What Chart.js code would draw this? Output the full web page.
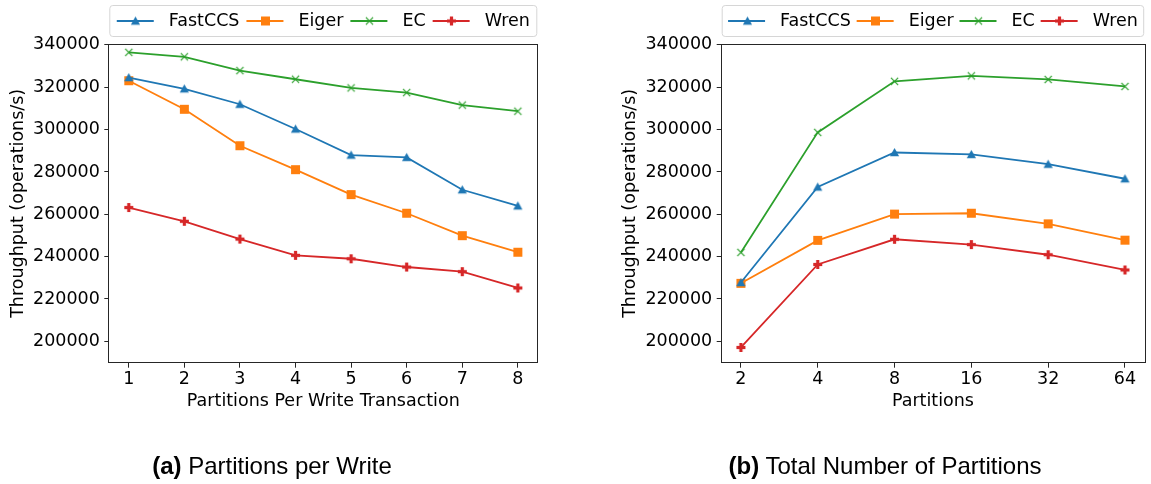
<!DOCTYPE html>
<html><head><meta charset="utf-8">
<script src="https://cdn.jsdelivr.net/npm/chart.js@4.4.0/dist/chart.umd.min.js"></script>
<style>
html,body{margin:0;padding:0;background:#fff;width:1151px;height:484px;overflow:hidden;position:relative;}
#wrapA{position:absolute;left:0;top:0;width:575px;height:484px;}
#wrapB{position:absolute;left:575px;top:0;width:576px;height:484px;}
.cap{position:absolute;top:452px;font-family:"Liberation Sans",Arial,sans-serif;font-size:24px;line-height:28px;color:#000;white-space:nowrap;transform:translateX(-50%);}
</style></head><body>
<div id="wrapA"><canvas id="chartA" width="575" height="484"></canvas></div>
<div id="wrapB"><canvas id="chartB" width="576" height="484"></canvas></div>
<div class="cap" style="left:272px"><b>(a)</b> Partitions per Write</div>
<div class="cap" style="left:885px"><b>(b)</b> Total Number of Partitions</div>
<script>
// ---- data ----
const seriesNames = ['FastCCS', 'Eiger', 'EC', 'Wren'];
const partitionsPerWrite = [1, 2, 3, 4, 5, 6, 7, 8];
const totalPartitions = ['2', '4', '8', '16', '32', '64'];
const yTickValues = [200000, 220000, 240000, 260000, 280000, 300000, 320000, 340000];

const fastccsPerWrite = [324600, 319300, 312000, 300300, 288000, 286900, 271600, 264000];
const eigerPerWrite   = [323100, 309600, 292400, 281100, 269300, 260500, 249900, 242100];
const ecPerWrite      = [336500, 334400, 327900, 323800, 319700, 317500, 311600, 308700];
const wrenPerWrite    = [263200, 256700, 248300, 240600, 239000, 235100, 232900, 225200];

const fastccsTotal = [227800, 272900, 289200, 288300, 283700, 276800];
const eigerTotal   = [227400, 247700, 260100, 260500, 255500, 247800];
const ecTotal      = [242000, 298700, 322800, 325400, 323700, 320400];
const wrenTotal    = [197100, 236300, 248200, 245700, 240900, 233700];

// ---- styles ----
const colors = ['#1f77b4', '#ff7f0e', '#2ca02c', '#d62728'];
const markerKinds = ['triangle', 'square', 'x', 'plus'];
const FONT = '"DejaVu Sans", sans-serif';
const FS = 17.5;

function makeMarker(kind, color) {
  const c = document.createElement('canvas');
  c.width = 13; c.height = 13;
  const g = c.getContext('2d');
  const cx = 6.5, cy = 6.5;
  g.fillStyle = color; g.strokeStyle = color;
  if (kind === 'triangle') {
    g.beginPath();
    g.moveTo(cx, cy - 4.5); g.lineTo(cx - 4.6, cy + 3.8); g.lineTo(cx + 4.6, cy + 3.8);
    g.closePath(); g.fill();
  } else if (kind === 'square') {
    g.fillRect(cx - 4.5, cy - 4.5, 9, 9);
  } else if (kind === 'x') {
    g.lineWidth = 1.2;
    g.beginPath();
    g.moveTo(cx - 3.6, cy - 3.6); g.lineTo(cx + 3.6, cy + 3.6);
    g.moveTo(cx + 3.6, cy - 3.6); g.lineTo(cx - 3.6, cy + 3.6);
    g.stroke();
  } else if (kind === 'plus') {
    g.fillRect(cx - 4.5, cy - 1.6, 9, 3.2);
    g.fillRect(cx - 1.6, cy - 4.5, 3.2, 9);
  }
  return c;
}
const markers = markerKinds.map((k, i) => makeMarker(k, colors[i]));

function mkDataset(i, xs, ys) {
  return {
    label: seriesNames[i],
    data: ys.map((v, j) => ({x: xs[j], y: v})),
    borderColor: colors[i],
    backgroundColor: colors[i],
    borderWidth: 1.8,
    pointStyle: markers[i],
    pointRadius: 5,
    tension: 0,
    fill: false
  };
}

const legendPlugin = {
  id: 'mplLegend',
  afterDraw(chart) {
    const ctx = chart.ctx, a = chart.chartArea;
    const top = 5.5, bot = 36.5, left = a.left + 0.5, right = a.right - 0.5;
    ctx.save();
    ctx.beginPath();
    const r = 3;
    ctx.moveTo(left + r, top); ctx.lineTo(right - r, top); ctx.arcTo(right, top, right, top + r, r);
    ctx.lineTo(right, bot - r); ctx.arcTo(right, bot, right - r, bot, r);
    ctx.lineTo(left + r, bot); ctx.arcTo(left, bot, left, bot - r, r);
    ctx.lineTo(left, top + r); ctx.arcTo(left, top, left + r, top, r);
    ctx.closePath();
    ctx.fillStyle = '#fff'; ctx.fill();
    ctx.strokeStyle = '#d6d6d6'; ctx.lineWidth = 1; ctx.stroke();
    ctx.font = FS + 'px ' + FONT;
    const handleLen = 37, handlePad = 15;
    const widths = chart.data.datasets.map(d => handleLen + handlePad + ctx.measureText(d.label).width);
    const sum = widths.reduce((s, w) => s + w, 0);
    const gap = ((right - left) - sum) / (widths.length + 1);
    let x = left + gap;
    const yc = 21;
    chart.data.datasets.forEach((d, i) => {
      ctx.strokeStyle = d.borderColor; ctx.lineWidth = d.borderWidth;
      ctx.beginPath(); ctx.moveTo(x, yc); ctx.lineTo(x + handleLen, yc); ctx.stroke();
      const m = d.pointStyle;
      ctx.drawImage(m, Math.round(x + handleLen / 2) - m.width / 2 + 0.5, yc - m.height / 2);
      ctx.fillStyle = '#000'; ctx.textBaseline = 'middle'; ctx.textAlign = 'left';
      ctx.fillText(d.label, x + handleLen + handlePad, yc);
      x += widths[i] + gap;
    });
    ctx.restore();
  }
};

const framePlugin = {
  id: 'frame',
  afterDatasetsDraw(chart) {
    const ctx = chart.ctx, a = chart.chartArea;
    ctx.save();
    ctx.strokeStyle = '#262626'; ctx.lineWidth = 1;
    ctx.strokeRect(Math.round(a.left) - 0.5, Math.round(a.top) + 0.5, Math.round(a.right - a.left) + 1, Math.round(a.bottom - a.top) - 1);
    ctx.restore();
  }
};

function makeConfig(datasets, o) {
  return {
    type: 'line',
    data: {datasets},
    options: {
      responsive: false,
      animation: false,
      events: [],
      layout: {padding: {left: o.padLeft, right: o.padRight, top: 44, bottom: 71.8}},
      plugins: {legend: {display: false}, tooltip: {enabled: false}},
      scales: {
        x: {
          type: 'linear', position: 'bottom', bounds: 'data',
          min: o.xMin, max: o.xMax,
          afterBuildTicks: s => { s.ticks = o.xTicks.map(v => ({value: v})); },
          afterFit: s => { s.height = 49.5; },
          grid: {display: true, drawOnChartArea: false, drawTicks: true, tickLength: 5, color: '#262626', lineWidth: 1},
          border: {display: false},
          ticks: {color: '#000', font: {family: FONT, size: FS}, padding: 1, maxRotation: 0, autoSkip: false,
                  callback: o.xFmt},
          title: {display: true, text: o.xTitle, color: '#000', font: {family: FONT, size: FS}, padding: {top: 0, bottom: 0}}
        },
        y: {
          type: 'linear', position: 'left', bounds: 'data',
          min: 189900, max: 340450,
          afterBuildTicks: s => { s.ticks = yTickValues.map(v => ({value: v})); },
          afterFit: s => { s.width = o.yWidth; },
          grid: {display: true, drawOnChartArea: false, drawTicks: true, tickLength: 5, color: '#262626', lineWidth: 1},
          border: {display: false},
          ticks: {color: '#000', font: {family: FONT, size: FS}, padding: 4.5, callback: v => String(v)},
          title: {display: true, text: 'Throughput (operations/s)', color: '#000', font: {family: FONT, size: FS}, padding: {top: 7.5, bottom: 0}}
        }
      }
    },
    plugins: [framePlugin, legendPlugin]
  };
}

const idxTotal = totalPartitions.map((_, i) => i);

new Chart(document.getElementById('chartA'), makeConfig([
  mkDataset(0, partitionsPerWrite, fastccsPerWrite),
  mkDataset(1, partitionsPerWrite, eigerPerWrite),
  mkDataset(2, partitionsPerWrite, ecPerWrite),
  mkDataset(3, partitionsPerWrite, wrenPerWrite)
], {
  padLeft: 0, padRight: 37.7, yWidth: 109.3,
  xMin: 0.65, xMax: 8.35, xTicks: partitionsPerWrite,
  xFmt: v => String(v), xTitle: 'Partitions Per Write Transaction'
}));

new Chart(document.getElementById('chartB'), makeConfig([
  mkDataset(0, idxTotal, fastccsTotal),
  mkDataset(1, idxTotal, eigerTotal),
  mkDataset(2, idxTotal, ecTotal),
  mkDataset(3, idxTotal, wrenTotal)
], {
  padLeft: 37, padRight: 2, yWidth: 109.7,
  xMin: -0.25, xMax: 5.25, xTicks: idxTotal,
  xFmt: v => totalPartitions[v], xTitle: 'Partitions'
}));
</script>
</body></html>
